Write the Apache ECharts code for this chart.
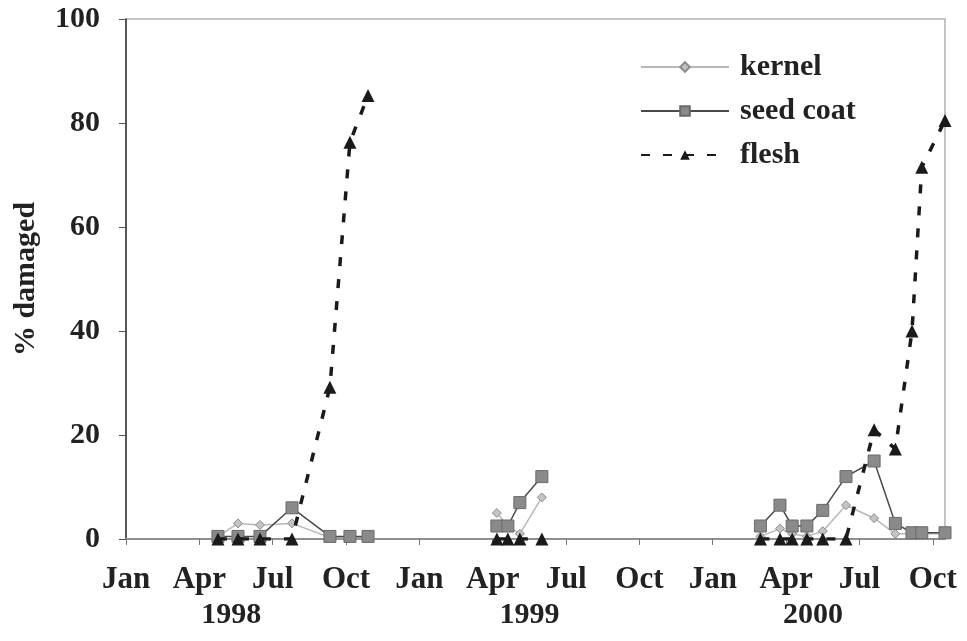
<!DOCTYPE html>
<html>
<head>
<meta charset="utf-8">
<script src="https://cdn.jsdelivr.net/npm/echarts@6/dist/echarts.min.js"></script>
<style>
  html, body { margin: 0; padding: 0; background: #ffffff; }
  #chart { width: 967px; height: 641px; }
</style>
</head>
<body>
<div id="chart"></div>
<script>
// Sampling dates, in months counted from 1 January 1998
const dates1998 = [3.76, 4.58, 5.48, 6.79, 8.34, 9.16, 9.90];
const dates1999 = [15.17, 15.62, 16.11, 17.01];
const dates2000 = [25.95, 26.75, 27.25, 27.85, 28.5, 29.45, 30.6, 31.47, 32.15, 32.55, 33.5];

// % damaged per tissue
const kernel1998   = [0.5, 3, 2.7, 3, 0.3, 0.3, 0.3];
const seedCoat1998 = [0.5, 0.5, 0.5, 6, 0.5, 0.5, 0.5];
const flesh1998    = [0, 0, 0, 0, 29.2, 76.3, 85.3];

const kernel1999   = [5, 2.5, 1, 8];
const seedCoat1999 = [2.5, 2.5, 7, 12];
const flesh1999    = [0, 0, 0, 0];

const kernel2000   = [0.5, 2, 1, 0.5, 1.5, 6.5, 4, 1, 1, 1, 1];
const seedCoat2000 = [2.5, 6.5, 2.5, 2.5, 5.5, 12, 15, 3, 1.2, 1.2, 1.2];
const flesh2000    = [0, 0, 0, 0, 0, 0, 21, 17.3, 40, 71.5, 80.5];

const monthLabels = ['Jan', 'Apr', 'Jul', 'Oct'];
const yearLabels  = ['1998', '1999', '2000'];

const FONT = '"Liberation Serif", "Times New Roman", serif';

function pairs(xs, ys) {
  return xs.map((x, i) => [x, ys[i]]);
}

const kernelStyle = {
  name: 'kernel',
  type: 'line',
  symbol: 'diamond',
  symbolSize: 9,
  lineStyle: { color: '#b8b8b8', width: 1.5 },
  itemStyle: { color: '#c4c4c4', borderColor: '#8c8c8c', borderWidth: 1 },
  z: 2
};
const seedStyle = {
  name: 'seed coat',
  type: 'line',
  symbol: 'rect',
  symbolSize: 12,
  lineStyle: { color: '#4a4a4a', width: 1.5 },
  itemStyle: { color: '#8a8a8a', borderColor: '#6a6a6a', borderWidth: 1 },
  z: 3
};
const fleshStyle = {
  name: 'flesh',
  type: 'line',
  symbol: 'triangle',
  symbolSize: 13,
  lineStyle: { color: '#1a1a1a', width: 3.5, type: [9, 13] },
  itemStyle: { color: '#1a1a1a' },
  z: 4
};

const groups = [
  [dates1998, kernel1998, seedCoat1998, flesh1998],
  [dates1999, kernel1999, seedCoat1999, flesh1999],
  [dates2000, kernel2000, seedCoat2000, flesh2000]
];

const series = [];
groups.forEach(([d, k, s, f]) => {
  series.push(Object.assign({}, kernelStyle, { data: pairs(d, k) }));
  series.push(Object.assign({}, seedStyle,   { data: pairs(d, s) }));
  series.push(Object.assign({}, fleshStyle,  { data: pairs(d, f) }));
});

const chart = echarts.init(document.getElementById('chart'));
chart.setOption({
  backgroundColor: '#ffffff',
  animation: false,
  grid: {
    left: 126, right: 22, top: 19, bottom: 102,
    show: true, borderColor: '#b0b0b0', borderWidth: 1.5
  },
  legend: {
    orient: 'vertical',
    left: 635, top: 47,
    itemWidth: 88, itemHeight: 12, itemGap: 14,
    data: ['kernel', 'seed coat', 'flesh'],
    textStyle: {
      fontFamily: FONT, fontWeight: 'bold', fontSize: 30, color: '#222',
      padding: [0, 0, 0, 6]
    }
  },
  xAxis: {
    type: 'value',
    min: 0, max: 33.5, interval: 3,
    axisLine: { lineStyle: { color: '#909090', width: 2 } },
    axisTick: { show: true, length: 6, inside: false, lineStyle: { color: '#777', width: 1 } },
    splitLine: { show: false },
    axisLabel: {
      showMaxLabel: false,
      margin: 25,
      fontFamily: FONT, fontWeight: 'bold', fontSize: 31, color: '#222',
      formatter: v => monthLabels[Math.round(v / 3) % 4]
    }
  },
  yAxis: {
    type: 'value',
    min: 0, max: 100, interval: 20,
    name: '% damaged',
    nameLocation: 'middle',
    nameGap: 85,
    nameRotate: 90,
    nameTextStyle: { fontFamily: FONT, fontWeight: 'bold', fontSize: 30, color: '#222' },
    axisLine: { show: true, lineStyle: { color: '#333', width: 1.5 } },
    axisTick: { show: true, length: 7, lineStyle: { color: '#555' } },
    splitLine: { show: false },
    axisLabel: {
      margin: 26,
      fontFamily: FONT, fontWeight: 'bold', fontSize: 30, color: '#222'
    }
  },
  series: series
});

// Year captions centred beneath each season's months
const yearCentres = [4.3, 16.5, 28.1];
chart.setOption({
  graphic: yearLabels.map((t, i) => ({
    type: 'text',
    x: chart.convertToPixel({ xAxisIndex: 0 }, yearCentres[i]),
    y: 615,
    style: {
      text: t,
      fontFamily: FONT, fontWeight: 'bold', fontSize: 30, fill: '#222',
      align: 'center', verticalAlign: 'middle'
    }
  }))
});
</script>
</body>
</html>
